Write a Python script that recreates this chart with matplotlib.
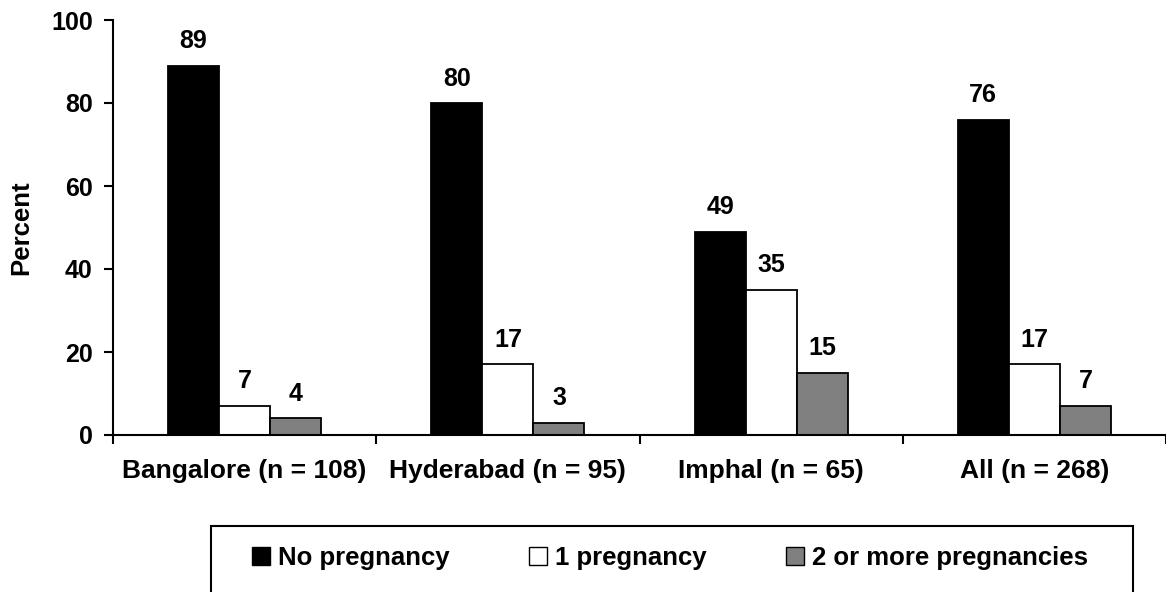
import numpy as np
import matplotlib.pyplot as plt
from matplotlib.patches import Patch, Rectangle

plt.rcParams['font.family'] = ['Liberation Sans', 'DejaVu Sans']
plt.rcParams['font.weight'] = 'bold'

# --- données ---
cities = ["Bangalore (n = 108)", "Hyderabad (n = 95)", "Imphal (n = 65)", "All (n = 268)"]
series_names = ["No pregnancy", "1 pregnancy", "2 or more pregnancies"]
no_preg = [89, 80, 49, 76]
one_preg = [7, 17, 35, 17]
two_plus = [4, 3, 15, 7]
colors = ["#000000", "#ffffff", "#808080"]

W, H = 1166, 592
fig = plt.figure(figsize=(W / 100, H / 100), dpi=100)
ax = fig.add_axes([113 / W, (H - 435) / H, 1053 / W, 415 / H])

x = np.arange(len(cities))
w = 0.194
for i, (vals, c) in enumerate(zip([no_preg, one_preg, two_plus], colors)):
    pos = x + (i - 1) * w
    ax.bar(pos, vals, width=w, color=c, edgecolor="black", linewidth=1.3)
    for xp, v in zip(pos, vals):
        ax.annotate(str(v), (xp, v), xytext=(0, 9), textcoords="offset points",
                    ha="center", va="bottom", fontsize=18, fontweight="bold")

ax.set_xlim(-0.5, len(cities) - 0.5)
ax.set_ylim(0, 100)
ax.set_yticks(range(0, 101, 20))
ax.set_xticks(np.arange(len(cities) + 1) - 0.5)
ax.set_xticklabels([])
ax.set_xticks(x, minor=True)
ax.set_xticklabels(cities, minor=True, fontsize=19, fontweight="bold")
ax.tick_params(axis="x", which="minor", length=0, pad=17)
ax.tick_params(axis="x", which="major", length=6.5, width=1.5, direction="out")
ax.tick_params(axis="y", length=6.5, width=1.5, labelsize=18, pad=8)
for lab in ax.get_yticklabels():
    lab.set_fontweight("bold")
for s in ["top", "right"]:
    ax.spines[s].set_visible(False)
for s in ["left", "bottom"]:
    ax.spines[s].set_linewidth(1.5)
ax.set_ylabel("Percent", fontsize=18.5, fontweight="bold")
ax.yaxis.set_label_coords(-(113 - 33) / 1053, 0.5)

# legende : cadre ouvert en bas (coupe par le bord de l'image)
frame = Rectangle((211 / W, -20 / H), (1133 - 211) / W, (H - 526 + 20) / H,
                  transform=fig.transFigure, facecolor="none", edgecolor="black",
                  linewidth=1.5)
fig.add_artist(frame)
handles = [Patch(facecolor=c, edgecolor="black", linewidth=1.0) for c in colors]
leg = fig.legend(handles, series_names, loc="center", ncol=3,
                 bbox_to_anchor=(670 / W, (H - 558) / H),
                 frameon=False, fontsize=18.5,
                 handlelength=0.7, handleheight=0.7, handletextpad=0.3,
                 columnspacing=3.1, borderpad=0, borderaxespad=0)
for t in leg.get_texts():
    t.set_fontweight("bold")

fig.savefig("out.png", dpi=100)
